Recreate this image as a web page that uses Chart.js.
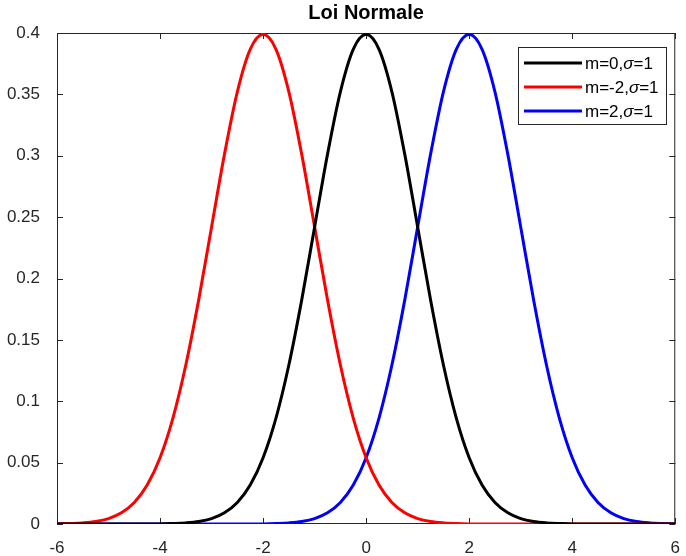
<!DOCTYPE html>
<html>
<head>
<meta charset="utf-8">
<title>Loi Normale</title>
<script src="https://cdn.jsdelivr.net/npm/chart.js@4/dist/chart.umd.min.js"></script>
<style>
  html, body { margin: 0; padding: 0; background: #fff; }
  canvas { display: block; }
</style>
</head>
<body>
<canvas id="myChart" width="686" height="556"></canvas>
<script>
// x positions shared by the three curves (step 0.25)
const xValues = [-6, -5.75, -5.5, -5.25, -5, -4.75, -4.5, -4.25, -4, -3.75, -3.5, -3.25,
  -3, -2.75, -2.5, -2.25, -2, -1.75, -1.5, -1.25, -1, -0.75, -0.5, -0.25,
  0, 0.25, 0.5, 0.75, 1, 1.25, 1.5, 1.75, 2, 2.25, 2.5, 2.75,
  3, 3.25, 3.5, 3.75, 4, 4.25, 4.5, 4.75, 5, 5.25, 5.5, 5.75, 6];

// m=0, sigma=1
const densCentre = [0, 0, 0, 0, 0, 0, 0, 0.0001, 0.0001, 0.0004, 0.0009, 0.002,
  0.0044, 0.0091, 0.0175, 0.0317, 0.054, 0.0863, 0.1295, 0.1826, 0.242, 0.3011, 0.3521, 0.3867,
  0.3989, 0.3867, 0.3521, 0.3011, 0.242, 0.1826, 0.1295, 0.0863, 0.054, 0.0317, 0.0175, 0.0091,
  0.0044, 0.002, 0.0009, 0.0004, 0.0001, 0.0001, 0, 0, 0, 0, 0, 0, 0];

// m=-2, sigma=1
const densLeft = [0.0001, 0.0004, 0.0009, 0.002, 0.0044, 0.0091, 0.0175, 0.0317, 0.054, 0.0863, 0.1295, 0.1826,
  0.242, 0.3011, 0.3521, 0.3867, 0.3989, 0.3867, 0.3521, 0.3011, 0.242, 0.1826, 0.1295, 0.0863,
  0.054, 0.0317, 0.0175, 0.0091, 0.0044, 0.002, 0.0009, 0.0004, 0.0001, 0, 0, 0,
  0, 0, 0, 0, 0, 0, 0, 0, 0, 0, 0, 0, 0];

// m=2, sigma=1
const densRight = [0, 0, 0, 0, 0, 0, 0, 0, 0, 0, 0, 0,
  0, 0, 0, 0, 0.0001, 0.0004, 0.0009, 0.002, 0.0044, 0.0091, 0.0175, 0.0317,
  0.054, 0.0863, 0.1295, 0.1826, 0.242, 0.3011, 0.3521, 0.3867, 0.3989, 0.3867, 0.3521, 0.3011,
  0.242, 0.1826, 0.1295, 0.0863, 0.054, 0.0317, 0.0175, 0.0091, 0.0044, 0.002, 0.0009, 0.0004, 0.0001];

const seriesLabels = [['m=0,', '\u03C3', '=1'], ['m=-2,', '\u03C3', '=1'], ['m=2,', '\u03C3', '=1']];
const seriesColors = ['#000000', '#ff0000', '#0000ff'];
const titleText = 'Loi Normale';

const FONT = '"Liberation Sans", Arial, Helvetica, sans-serif';
const AXIS_COLOR = '#262626';

function toPoints(ys)
{
    return xValues.map((x, i) => ({ x: x, y: ys[i] }));
}

// box round the plot with ticks pointing inwards, matlab style
const axesBox = {
    id: 'axesBox',
    beforeDatasetsDraw(chart) {
        const { ctx, chartArea: a, scales } = chart;
        ctx.save();
        ctx.strokeStyle = AXIS_COLOR;
        ctx.lineWidth = 1;
        ctx.strokeRect(a.left + 0.5, a.top + 0.5, a.right - a.left - 1, a.bottom - a.top - 1);
        const len = 6;
        ctx.beginPath();
        scales.x.ticks.forEach(t => {
            const px = Math.round(scales.x.getPixelForValue(t.value)) + 0.5;
            ctx.moveTo(px, a.bottom); ctx.lineTo(px, a.bottom - len);
            ctx.moveTo(px, a.top); ctx.lineTo(px, a.top + len);
        });
        scales.y.ticks.forEach(t => {
            const py = Math.round(scales.y.getPixelForValue(t.value)) + 0.5;
            ctx.moveTo(a.left, py); ctx.lineTo(a.left + len, py);
            ctx.moveTo(a.right, py); ctx.lineTo(a.right - len, py);
        });
        ctx.stroke();
        ctx.restore();
    },
    afterDraw(chart) {
        const { ctx, chartArea: a } = chart;
        ctx.save();
        // title
        ctx.fillStyle = '#000';
        ctx.font = 'bold 20px ' + FONT;
        ctx.textAlign = 'center';
        ctx.textBaseline = 'middle';
        ctx.fillText(titleText, (a.left + a.right) / 2, 13);

        // legend box in the top right corner
        const bx = 518, by = 47, bw = 148, bh = 77;
        ctx.fillStyle = '#fff';
        ctx.fillRect(bx, by, bw, bh);
        ctx.strokeStyle = AXIS_COLOR;
        ctx.lineWidth = 1;
        ctx.strokeRect(bx + 0.5, by + 0.5, bw, bh);
        ctx.textAlign = 'left';
        chart.data.datasets.forEach((ds, i) => {
            const y = by + 16 + i * 24;
            ctx.strokeStyle = ds.borderColor;
            ctx.lineWidth = 3;
            ctx.beginPath();
            ctx.moveTo(524, y); ctx.lineTo(582, y);
            ctx.stroke();
            let tx = 585;
            seriesLabels[i].forEach((part, k) => {
                ctx.font = (k === 1 ? 'italic ' : '') + '17px ' + FONT;
                ctx.fillStyle = '#000';
                ctx.fillText(part, tx, y + 1);
                tx += ctx.measureText(part).width;
            });
        });
        ctx.restore();
    }
};

const ctx = document.getElementById('myChart');

new Chart(ctx, {
    type: 'line',
    data: {
        datasets: [
            { label: seriesLabels[0].join(''), data: toPoints(densCentre), borderColor: seriesColors[0] },
            { label: seriesLabels[1].join(''), data: toPoints(densLeft), borderColor: seriesColors[1] },
            { label: seriesLabels[2].join(''), data: toPoints(densRight), borderColor: seriesColors[2] }
        ]
    },
    options: {
        responsive: false,
        animation: false,
        layout: { padding: { top: 33, right: 5, left: 0, bottom: 0 } },
        elements: {
            line: { borderWidth: 3, cubicInterpolationMode: 'monotone', fill: false },
            point: { radius: 0 }
        },
        plugins: {
            legend: { display: false },
            title: { display: false },
            tooltip: { enabled: false }
        },
        scales: {
            x: {
                type: 'linear',
                min: -6,
                max: 6,
                ticks: { stepSize: 2, color: AXIS_COLOR, padding: 6, font: { family: FONT, size: 17 } },
                grid: { display: false },
                border: { display: false },
                afterFit(scale) { scale.height = 32; }
            },
            y: {
                min: 0,
                max: 0.4,
                ticks: {
                    stepSize: 0.05, color: AXIS_COLOR, padding: 9, font: { family: FONT, size: 17 },
                    callback: v => String(Number(v.toFixed(2)))
                },
                grid: { display: false },
                border: { display: false },
                afterFit(scale) { scale.width = 57; }
            }
        }
    },
    plugins: [axesBox]
});
</script>
</body>
</html>
